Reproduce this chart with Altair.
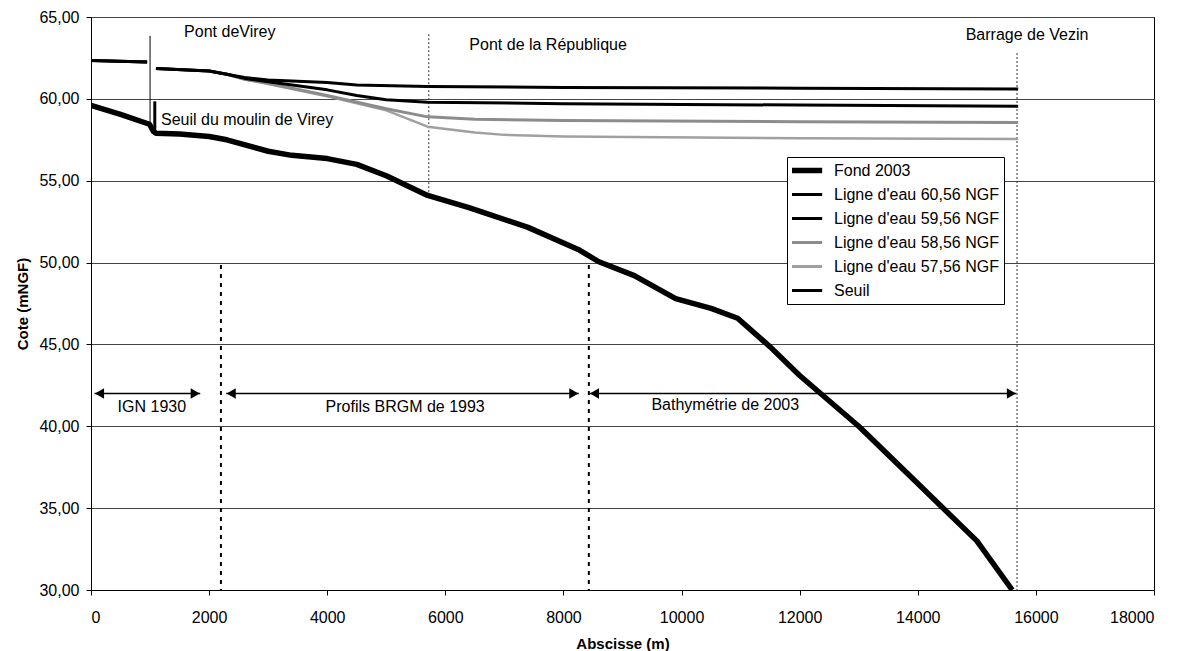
import altair as alt
import pandas as pd

FONT = "Liberation Sans"

# ---------------- data ----------------
series = ["Fond 2003", "Ligne d'eau 60,56 NGF", "Ligne d'eau 59,56 NGF",
          "Ligne d'eau 58,56 NGF", "Ligne d'eau 57,56 NGF", "Seuil"]

fond_x = [0, 500, 990, 1060, 1100, 1500, 2000, 2300, 3000, 3400, 4000, 4500, 5000,
          5700, 6400, 7400, 8250, 8600, 9200, 9900, 10500, 10950, 11500, 12000,
          13000, 14000, 15000, 15600]
fond_y = [59.6, 59.05, 58.45, 58.0, 57.9, 57.85, 57.7, 57.5, 56.8, 56.55, 56.35, 56.0,
          55.3, 54.1, 53.35, 52.15, 50.8, 50.05, 49.2, 47.8, 47.2, 46.6, 44.85, 43.1,
          40.0, 36.5, 33.0, 30.0]

amont_x = [0, 950]
amont_y = [62.35, 62.25]

l6056_x = [1100, 2000, 2300, 2600, 3000, 4000, 4500, 5700, 8000, 12000, 15700]
l6056_y = [61.85, 61.7, 61.5, 61.3, 61.15, 61.0, 60.85, 60.75, 60.7, 60.65, 60.6]

l5956_x = [1100, 2000, 2300, 2600, 3000, 4000, 4500, 5000, 5700, 8000, 12000, 15700]
l5956_y = [61.85, 61.7, 61.5, 61.25, 61.05, 60.55, 60.2, 59.95, 59.8, 59.7, 59.62, 59.55]

l5856_x = [1100, 2000, 2300, 2600, 3000, 4000, 5000, 5700, 6500, 8000, 12000, 15700]
l5856_y = [61.85, 61.7, 61.5, 61.2, 60.95, 60.2, 59.4, 58.9, 58.75, 58.68, 58.6, 58.55]

l5756_x = [1100, 2000, 2300, 2600, 3000, 4000, 5000, 5700, 6500, 7000, 8000, 12000, 15700]
l5756_y = [61.85, 61.7, 61.5, 61.2, 60.9, 60.15, 59.3, 58.3, 57.95, 57.8, 57.7, 57.6, 57.55]

seuil_x = [1080, 1080]
seuil_y = [59.85, 57.95]

# annotations
top_labels = ["Pont deVirey", "Pont de la République", "Barrage de Vezin"]
top_labels_x = [2350, 7740, 15850]
top_labels_y = [64.1, 63.27, 63.88]

seuil_label = ["Seuil du moulin de Virey"]
seuil_label_x = [1185]
seuil_label_y = [58.7]

pont_line_x = [1000]
pont_line_top = [63.85]
pont_line_bottom = [58.45]

dash_lines_x = [5720, 15680]
dash_lines_top = [63.95, 62.8]
dash_lines_bottom = [54.05, 30.0]

dot_lines_x = [2200, 8430]
dot_lines_top = [49.85, 49.85]
dot_lines_bottom = [30.0, 30.0]

arrow_start = [60, 2290, 8440]
arrow_end = [1850, 8260, 15670]
arrow_y = [42.0, 42.0, 42.0]

period_labels = ["IGN 1930", "Profils BRGM de 1993", "Bathymétrie de 2003"]
period_labels_x = [1030, 5320, 10740]
period_labels_y = [41.15, 41.15, 41.3]

x_ticks = [0, 2000, 4000, 6000, 8000, 10000, 12000, 14000, 16000, 18000]
y_ticks = [30, 35, 40, 45, 50, 55, 60, 65]

# styles
colors = ["#000000", "#000000", "#000000", "#8c8c8c", "#a0a0a0", "#000000"]
widths = [5.5, 3, 3, 3, 2.5, 3]

# ---------------- build tables ----------------
rows = []
def add(name, seg, xs, ys):
    w = widths[series.index(name)]
    for i, (a, b) in enumerate(zip(xs, ys)):
        rows.append({"x": a, "y": b, "serie": name, "seg": name + seg, "i": i, "w": w})

add("Ligne d'eau 57,56 NGF", "a", amont_x, amont_y)
add("Ligne d'eau 57,56 NGF", "b", l5756_x, l5756_y)
add("Ligne d'eau 58,56 NGF", "a", amont_x, amont_y)
add("Ligne d'eau 58,56 NGF", "b", l5856_x, l5856_y)
add("Ligne d'eau 59,56 NGF", "a", amont_x, amont_y)
add("Ligne d'eau 59,56 NGF", "b", l5956_x, l5956_y)
add("Ligne d'eau 60,56 NGF", "a", amont_x, amont_y)
add("Ligne d'eau 60,56 NGF", "b", l6056_x, l6056_y)
add("Fond 2003", "a", fond_x, fond_y)
add("Seuil", "a", seuil_x, seuil_y)
df = pd.DataFrame(rows)

xscale = alt.Scale(domain=[0, 18000], nice=False, zero=False)
yscale = alt.Scale(domain=[30, 65], nice=False, zero=False)

sym_w = alt.ExprRef(expr="datum.value === 'Fond 2003' ? 5.5 : 3")

lines = alt.Chart(df).mark_line(strokeCap="butt", strokeJoin="round", clip=True).encode(
    x=alt.X("x:Q", scale=xscale, title="Abscisse (m)",
            axis=alt.Axis(values=x_ticks, format="d", grid=False, tickSize=5,
                          labelPadding=14, titlePadding=11)),
    y=alt.Y("y:Q", scale=yscale, title="Cote (mNGF)",
            axis=alt.Axis(values=y_ticks, grid=True, tickSize=5, labelPadding=7,
                          titlePadding=8,
                          labelExpr="replace(format(datum.value, '.2f'), '.', ',')")),
    color=alt.Color("serie:N", scale=alt.Scale(domain=series, range=colors),
                    legend=alt.Legend(title=None, orient="none", legendX=696, legendY=140,
                                      symbolType="M-1.9,0H1.9", symbolSize=289,
                                      symbolStrokeWidth=sym_w, symbolOffset=6,
                                      labelFont=FONT, labelFontSize=16, labelColor="black",
                                      labelLimit=300,
                                      padding=5, fillColor="white", strokeColor="black",
                                      rowPadding=7, clipHeight=17, labelOffset=20)),
    strokeWidth=alt.StrokeWidth("w:Q", scale=None, legend=None),
    detail="seg:N",
    order="i:Q",
)

pont_df = pd.DataFrame({"x": pont_line_x, "y": pont_line_top, "y2": pont_line_bottom})
pont = alt.Chart(pont_df).mark_rule(color="black", strokeWidth=1).encode(
    x=alt.X("x:Q", scale=xscale), y=alt.Y("y:Q", scale=yscale), y2="y2:Q")

dash_df = pd.DataFrame({"x": dash_lines_x, "y": dash_lines_top, "y2": dash_lines_bottom})
dash = alt.Chart(dash_df).mark_rule(color="#333333", strokeWidth=1, strokeDash=[2, 2]).encode(
    x=alt.X("x:Q", scale=xscale), y=alt.Y("y:Q", scale=yscale), y2="y2:Q")

dot_df = pd.DataFrame({"x": dot_lines_x, "y": dot_lines_top, "y2": dot_lines_bottom})
dots = alt.Chart(dot_df).mark_rule(color="black", strokeWidth=2, strokeDash=[4, 5]).encode(
    x=alt.X("x:Q", scale=xscale), y=alt.Y("y:Q", scale=yscale), y2="y2:Q")

arr_df = pd.DataFrame({"x": arrow_start, "x2": arrow_end, "y": arrow_y})
arrows = alt.Chart(arr_df).mark_rule(color="black", strokeWidth=1.5).encode(
    x=alt.X("x:Q", scale=xscale), x2="x2:Q", y=alt.Y("y:Q", scale=yscale))
heads_l = alt.Chart(arr_df).mark_point(shape="triangle-left", filled=True, color="black",
                                       size=110, opacity=1, xOffset=5).encode(
    x=alt.X("x:Q", scale=xscale), y=alt.Y("y:Q", scale=yscale))
heads_r = alt.Chart(arr_df).mark_point(shape="triangle-right", filled=True, color="black",
                                       size=110, opacity=1, xOffset=-5).encode(
    x=alt.X("x2:Q", scale=xscale), y=alt.Y("y:Q", scale=yscale))

top_df = pd.DataFrame({"x": top_labels_x, "y": top_labels_y, "t": top_labels})
top_txt = alt.Chart(top_df).mark_text(font=FONT, fontSize=16, color="black", align="center").encode(
    x=alt.X("x:Q", scale=xscale), y=alt.Y("y:Q", scale=yscale), text="t:N")

seuil_df = pd.DataFrame({"x": seuil_label_x, "y": seuil_label_y, "t": seuil_label})
seuil_txt = alt.Chart(seuil_df).mark_text(font=FONT, fontSize=16, color="black", align="left").encode(
    x=alt.X("x:Q", scale=xscale), y=alt.Y("y:Q", scale=yscale), text="t:N")

per_df = pd.DataFrame({"x": period_labels_x, "y": period_labels_y, "t": period_labels})
per_txt = alt.Chart(per_df).mark_text(font=FONT, fontSize=16, color="black", align="center").encode(
    x=alt.X("x:Q", scale=xscale), y=alt.Y("y:Q", scale=yscale), text="t:N")

chart = alt.layer(
    pont, dash, dots, arrows, heads_l, heads_r, lines, top_txt, seuil_txt, per_txt
).properties(
    width=1063, height=573,
    autosize=alt.AutoSizeParams(type="none"),
    padding={"left": 91, "top": 17, "right": 40, "bottom": 61},
    background="white",
).configure_view(
    stroke="black", strokeWidth=1
).configure_axis(
    labelFont=FONT, labelFontSize=16, labelColor="black",
    titleFont=FONT, titleFontSize=15, titleFontWeight="bold", titleColor="black",
    domainColor="black", tickColor="black", gridColor="#444444", gridWidth=1,
)

chart.save("out.html", embed_options={"renderer": "svg", "actions": False})
